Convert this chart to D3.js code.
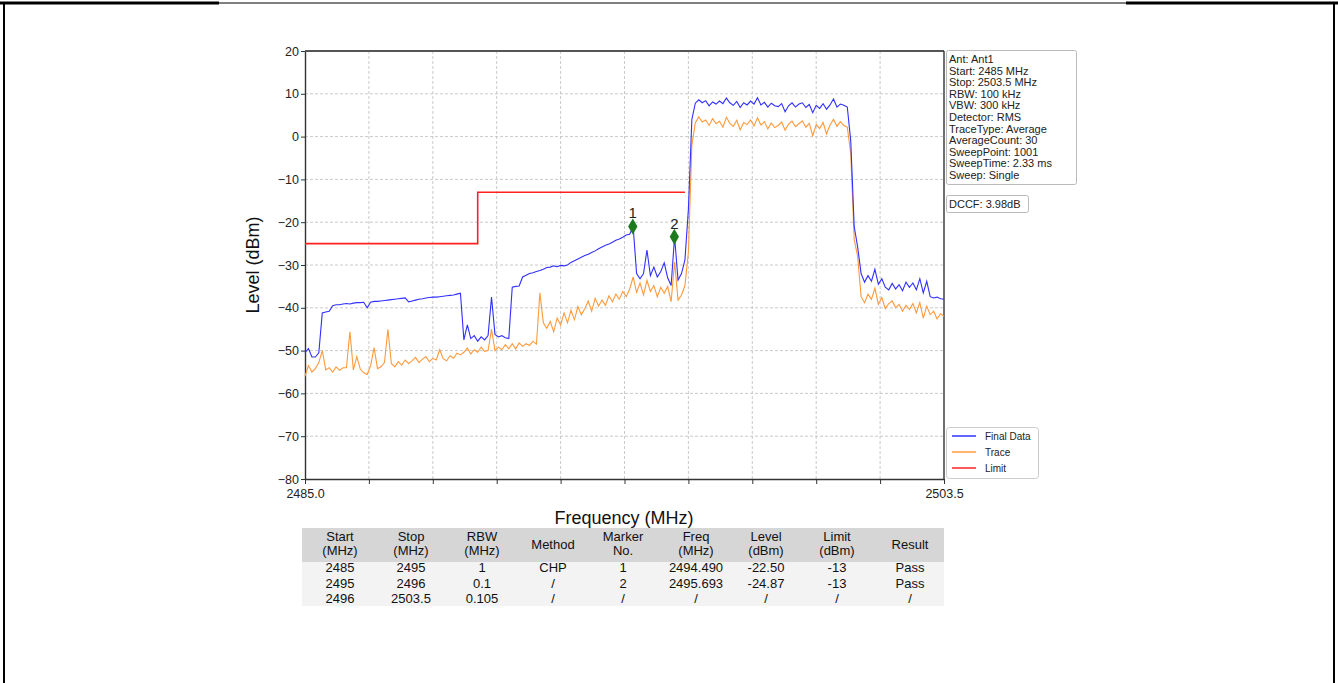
<!DOCTYPE html>
<html><head><meta charset="utf-8">
<script src="https://cdn.jsdelivr.net/npm/d3@7"></script>
<style>
body{margin:0;background:#fff;}
svg text{font-family:"Liberation Sans",Arial,sans-serif;}
</style></head>
<body><svg id="c" width="1338" height="683"></svg>
<script>
// ---------- data ----------
const sweepStart = 2485.0;      // MHz
const sweepStep = 0.1;          // MHz per displayed point
const finalData = [
 -50.5,-49.5,-51.5,-51.5,-50.5,
 -41.2,-41,-40.8,-39.5,-39.3,
 -39.3,-39.1,-39,-39.1,-38.9,
 -38.8,-38.8,-38.7,-40,-38.7,
 -38.5,-38.5,-38.4,-38.3,-38.2,
 -38.1,-38,-37.9,-37.8,-37.7,
 -38.6,-38.4,-38.2,-38,-37.9,
 -37.7,-37.6,-37.5,-37.5,-37.4,
 -37.3,-37.2,-37.1,-37,-36.8,
 -36.6,-47.5,-44,-47.2,-46.5,
 -47.8,-46.8,-47.5,-46.5,-37.5,
 -46.2,-46.8,-46.5,-47,-47.2,
 -35.2,-35,-34.9,-32.8,-32.4,
 -32,-31.8,-31.5,-31.3,-31,
 -30.6,-30.5,-30.2,-30.4,-30.1,
 -30.2,-30,-29.4,-29,-28.6,
 -28.2,-27.8,-27.5,-27.1,-26.7,
 -26.2,-25.8,-25.4,-25.1,-24.7,
 -24.2,-23.9,-23.5,-23,-22.8,
 -21,-32,-33.2,-32,-26.5,
 -32.5,-30.5,-32.8,-31.5,-29.5,
 -33,-34.8,-23.4,-33.5,-32,
 -28.8,-17,4,
 7.8,8.6,7.9,8.4,7.2,8.1,7.6,8.3,7.7,9.0,
 7.9,7.3,8.2,6.8,7.9,7.4,8.3,7.6,9.1,7.4,
 8.0,6.9,7.8,7.2,7.0,7.7,5.8,7.2,7.9,6.9,
 7.6,7.9,6.8,7.5,5.6,7.3,6.6,7.7,6.4,7.4,
 8.8,6.9,7.6,7.3,6.9,
 -1,-21,-25.8,-32,-34,
 -32.5,-33.8,-31,-34.5,-33.2,
 -35.2,-35.8,-34.3,-35.6,-34.6,
 -36,-34,-35.2,-34.2,-35.8,
 -33.2,-36.5,-33.8,-37.4,-37.7,
 -37.5,-37.9,-38
];
const traceData = [
 -56,-53.5,-55,-54.2,-52.8,
 -50,-54.5,-54,-55,-53.8,
 -54.6,-54,-54,-45.6,-54.5,
 -51.4,-54.3,-55.2,-55.6,-53.5,
 -49.3,-54.2,-53.8,-52.8,-45,
 -53,-53.8,-52.6,-53.4,-52.2,
 -53,-52.4,-51.6,-52.8,-52,
 -51.4,-52.6,-51.8,-52.2,-49.8,
 -51.9,-52.4,-51.2,-51.8,-50.6,
 -51,-50.4,-49.4,-50.8,-49.8,
 -50.4,-49.2,-50.2,-50,-45,
 -50,-49.2,-49.8,-48.6,-49.6,
 -48.4,-49.6,-48.2,-49,-48.4,
 -48.8,-47.8,-48.5,-36.5,-43.5,
 -44.8,-43.2,-45.6,-42.4,-44,
 -41.2,-43.5,-40.6,-42.8,-39.7,
 -41.6,-40.2,-38.4,-40.8,-37.8,
 -39.6,-38.2,-39.4,-37.2,-38.6,
 -36.8,-38,-36.2,-37.4,-35.6,
 -32.8,-36.4,-34.2,-37,-33.6,
 -36.2,-34.8,-37.4,-35.2,-36.6,
 -35,-38.6,-29.3,-38.2,-37,
 -34.8,-27,-2,
 3.2,4.6,3.4,3.9,2.6,4.2,3.0,3.6,2.2,4.5,
 3.1,2.4,3.8,1.6,3.3,2.8,3.9,2.5,4.4,2.7,
 3.5,1.8,3.2,2.1,2.6,3.4,1.5,2.9,3.6,2.3,
 3.0,3.7,2.2,3.1,0.2,2.8,1.9,3.3,0.6,2.7,
 4.0,2.4,3.5,2.6,2.2,
 -4,-24,-28,-37.4,-38.8,
 -36.8,-38,-35.4,-39.2,-37.6,
 -40.2,-39,-38.4,-40,-39.2,
 -40.8,-39.4,-40.4,-39,-41.2,
 -38.8,-42.4,-39.6,-41.6,-40.8,
 -42.6,-41.4,-42
];
const limitFreq = [2485, 2490, 2490, 2496];
const limitLevel = [-25, -25, -13, -13];
const markerNo = ["1", "2"];
const markerFreq = [2494.490, 2495.693];
const markerLevel = [-21.0, -23.4];
const xTicks = [2485.0,2486.85,2488.7,2490.55,2492.4,2494.25,2496.1,2497.95,2499.8,2501.65,2503.5];
const xTickLabels = ["2485.0","","","","","","","","","","2503.5"];
const yTicks = [20,10,0,-10,-20,-30,-40,-50,-60,-70,-80];
const infoLines = ["Ant: Ant1","Start: 2485 MHz","Stop: 2503.5 MHz","RBW: 100 kHz","VBW: 300 kHz","Detector: RMS","TraceType: Average","AverageCount: 30","SweepPoint: 1001","SweepTime: 2.33 ms","Sweep: Single"];
const dccfText = "DCCF: 3.98dB";
const legendNames = ["Final Data","Trace","Limit"];
const legendColors = ["#3030ff","#ff9a3c","#ff2020"];
const tableHeader = [["Start","(MHz)"],["Stop","(MHz)"],["RBW","(MHz)"],["Method"],["Marker","No."],["Freq","(MHz)"],["Level","(dBm)"],["Limit","(dBm)"],["Result"]];
const tableRows = [
 ["2485","2495","1","CHP","1","2494.490","-22.50","-13","Pass"],
 ["2495","2496","0.1","/","2","2495.693","-24.87","-13","Pass"],
 ["2496","2503.5","0.105","/","/","/","/","/","/"]
];

// ---------- drawing ----------
const svg = d3.select("#c");
const W = 1338, H = 683;
svg.append("rect").attr("x",0).attr("y",0).attr("width",W).attr("height",H).attr("fill","#fff");
svg.append("line").attr("x1",0).attr("x2",219).attr("y1",3).attr("y2",3).attr("stroke","#000").attr("stroke-width",3);
svg.append("line").attr("x1",1126).attr("x2",W).attr("y1",3).attr("y2",3).attr("stroke","#000").attr("stroke-width",3);
svg.append("line").attr("x1",219).attr("x2",1126).attr("y1",3).attr("y2",3).attr("stroke","#000").attr("stroke-width",1);
svg.append("line").attr("x1",4).attr("x2",4).attr("y1",2).attr("y2",H).attr("stroke","#000").attr("stroke-width",2);
svg.append("line").attr("x1",1334).attr("x2",1334).attr("y1",2).attr("y2",H).attr("stroke","#000").attr("stroke-width",2);

const m = {l:305, r:944, t:51, b:479};
const x = d3.scaleLinear().domain([2485, 2503.5]).range([m.l, m.r]);
const y = d3.scaleLinear().domain([-80, 20]).range([m.b, m.t]);

// grid
const grid = svg.append("g");
grid.selectAll(".gx").data(xTicks.slice(1,-1)).enter().append("line")
  .attr("x1",d=>x(d)).attr("x2",d=>x(d)).attr("y1",m.t).attr("y2",m.b)
  .attr("stroke","#bdbdbd").attr("stroke-width",0.8).attr("stroke-dasharray","3,2");
grid.selectAll(".gy").data(yTicks.slice(1,-1)).enter().append("line")
  .attr("x1",m.l).attr("x2",m.r).attr("y1",d=>y(d)).attr("y2",d=>y(d))
  .attr("stroke","#bdbdbd").attr("stroke-width",0.8).attr("stroke-dasharray","3,2");

// axes
const xAxis = d3.axisBottom(x).tickValues(xTicks).tickFormat((d,i)=>xTickLabels[i]).tickSize(5).tickSizeOuter(0);
const gx = svg.append("g").attr("transform",`translate(0,${m.b})`).call(xAxis);
gx.selectAll("text").attr("font-size",12.5).attr("fill","#222").attr("dy","0.9em");
gx.selectAll("line").attr("stroke","#333");
gx.select(".domain").attr("stroke","#333").attr("stroke-width",1.4);
const yAxis = d3.axisLeft(y).tickValues(yTicks).tickFormat(d3.format("d")).tickSize(4).tickSizeOuter(0);
const gy = svg.append("g").attr("transform",`translate(${m.l},0)`).call(yAxis);
gy.selectAll("text").attr("font-size",12.5).attr("fill","#222").attr("x",-6);
gy.selectAll("line").attr("stroke","#333");
gy.select(".domain").attr("stroke","#333").attr("stroke-width",1.4);
svg.append("line").attr("x1",m.l).attr("x2",m.r).attr("y1",m.t).attr("y2",m.t).attr("stroke","#555").attr("stroke-width",2);
svg.append("line").attr("x1",m.r).attr("x2",m.r).attr("y1",m.t).attr("y2",m.b).attr("stroke","#333").attr("stroke-width",1.4);

// labels
svg.append("text").attr("x",624).attr("y",524).attr("text-anchor","middle").attr("font-size",18).attr("fill","#111").text("Frequency (MHz)");
svg.append("text").attr("transform","translate(259,265) rotate(-90)").attr("text-anchor","middle").attr("font-size",18).attr("fill","#111").text("Level (dBm)");

// traces
const line = d3.line().x((d,i)=>x(sweepStart + i*sweepStep)).y(d=>y(d));
svg.append("path").datum(traceData).attr("d",line).attr("fill","none").attr("stroke",legendColors[1]).attr("stroke-width",1.1);
svg.append("path").datum(finalData).attr("d",line).attr("fill","none").attr("stroke",legendColors[0]).attr("stroke-width",1.1);
const lim = d3.line().x((d,i)=>x(limitFreq[i])).y(d=>y(d));
svg.append("path").datum(limitLevel).attr("d",lim).attr("fill","none").attr("stroke",legendColors[2]).attr("stroke-width",1.6);

// markers
const sym = d3.symbol().type(d3.symbolDiamond).size(75);
markerFreq.forEach((f,i)=>{
  svg.append("path").attr("d",sym).attr("transform",`translate(${x(f)},${y(markerLevel[i])})`).attr("fill","#1e7a1e");
  svg.append("text").attr("x",x(f)).attr("y",y(markerLevel[i])-8).attr("text-anchor","middle").attr("font-size",15).attr("fill","#222").text(markerNo[i]);
});

// info box
const ib = svg.append("g");
ib.append("rect").attr("x",946.5).attr("y",50.5).attr("width",130).attr("height",134).attr("fill","#fff").attr("stroke","#bbb").attr("rx",2);
infoLines.forEach((t,i)=>{
  ib.append("text").attr("x",949).attr("y",63+i*11.6).attr("font-size",11).attr("fill","#222").text(t);
});
ib.append("rect").attr("x",946.5).attr("y",195.5).attr("width",82).attr("height",17).attr("fill","#fff").attr("stroke","#bbb").attr("rx",2);
ib.append("text").attr("x",949).attr("y",208).attr("font-size",11).attr("fill","#222").text(dccfText);

// legend
const lg = svg.append("g");
lg.append("rect").attr("x",946.5).attr("y",427.5).attr("width",92).attr("height",51).attr("fill","#fff").attr("stroke","#ccc").attr("rx",3);
legendNames.forEach((n,i)=>{
  const yy = 436 + i*16;
  lg.append("line").attr("x1",952).attr("x2",976).attr("y1",yy).attr("y2",yy).attr("stroke",legendColors[i]).attr("stroke-width",1.5);
  lg.append("text").attr("x",985).attr("y",yy+4).attr("font-size",10).attr("fill","#222").text(n);
});

// table
const colX = [340,411,482,553,623,696,766,837,910];
const tb = svg.append("g");
tb.append("rect").attr("x",302).attr("y",528).attr("width",642).attr("height",34).attr("fill","#d6d6d6");
tb.append("rect").attr("x",302).attr("y",562).attr("width",642).attr("height",44).attr("fill","#f3f3f3");
tableHeader.forEach((h,i)=>{
  if(h.length===2){
    tb.append("text").attr("x",colX[i]).attr("y",541).attr("text-anchor","middle").attr("font-size",13).attr("fill","#111").text(h[0]);
    tb.append("text").attr("x",colX[i]).attr("y",555).attr("text-anchor","middle").attr("font-size",13).attr("fill","#111").text(h[1]);
  } else {
    tb.append("text").attr("x",colX[i]).attr("y",549).attr("text-anchor","middle").attr("font-size",13).attr("fill","#111").text(h[0]);
  }
});
tableRows.forEach((r,j)=>{
  r.forEach((c,i)=>{
    tb.append("text").attr("x",colX[i]).attr("y",572+j*15.5).attr("text-anchor","middle").attr("font-size",13).attr("fill","#111").text(c);
  });
});
</script></body></html>
